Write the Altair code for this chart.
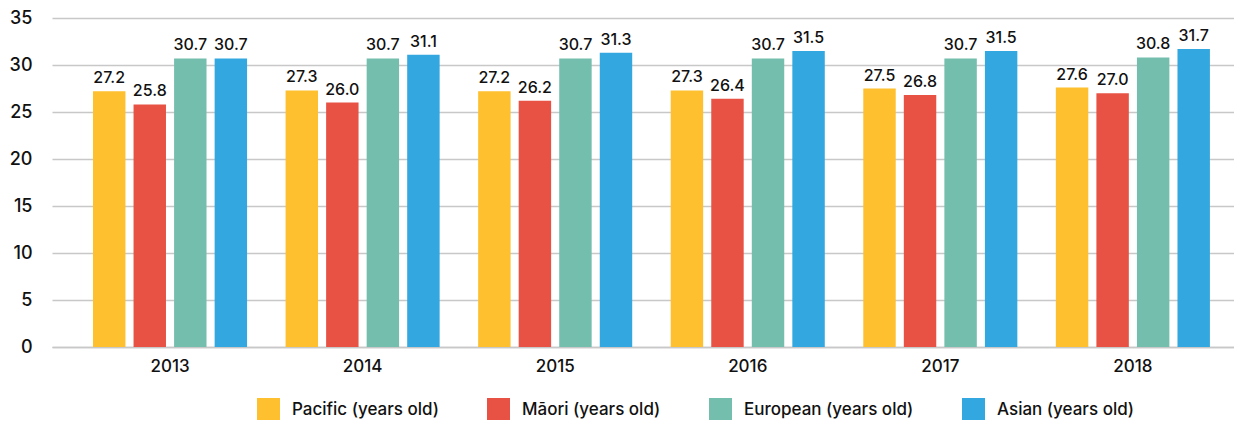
import altair as alt
import pandas as pd

years = ["2013", "2014", "2015", "2016", "2017", "2018"]
series = ["Pacific (years old)", "Māori (years old)", "European (years old)", "Asian (years old)"]
pacific = [27.2, 27.3, 27.2, 27.3, 27.5, 27.6]
maori = [25.8, 26.0, 26.2, 26.4, 26.8, 27.0]
european = [30.7, 30.7, 30.7, 30.7, 30.7, 30.8]
asian = [30.7, 31.1, 31.3, 31.5, 31.5, 31.7]
colors = ["#FEC02F", "#E85244", "#74BEAE", "#33A7DF"]

rows = []
for s, vals in zip(series, [pacific, maori, european, asian]):
    for y, v in zip(years, vals):
        rows.append({"year": y, "group": s, "value": v})
df = pd.DataFrame(rows)

FONT = "Inter"

x = alt.X("year:N", title=None,
          scale=alt.Scale(paddingInner=0.2, paddingOuter=0.169, align=0.63),
          axis=alt.Axis(labelAngle=0, labelFontSize=17, labelPadding=11, ticks=False,
                        domain=True, domainColor="#c8c8c8", domainWidth=1.5,
                        labelColor="#111", labelFont=FONT, labelFontWeight=500))
xo = alt.XOffset("group:N", sort=series, scale=alt.Scale(paddingInner=0.2, paddingOuter=0))
y = alt.Y("value:Q", title=None,
          scale=alt.Scale(domain=[0, 35], nice=False),
          axis=alt.Axis(values=[0, 5, 10, 15, 20, 25, 30, 35], ticks=False, domain=False,
                        labelFontSize=18, labelPadding=20, gridColor="#c8c8c8", gridWidth=1.5,
                        labelColor="#111", labelFont=FONT, labelFontWeight=500))
color = alt.Color("group:N", sort=series, title=None,
                  scale=alt.Scale(domain=series, range=colors),
                  legend=alt.Legend(orient="none", legendX=205, legendY=380, direction="horizontal",
                                    symbolType="square", symbolSize=529, symbolStrokeWidth=0,
                                    symbolOpacity=1, labelFontSize=17, labelFont=FONT,
                                    labelFontWeight=500,
                                    labelColor="#111", labelOffset=12, columnPadding=48,
                                    padding=0, labelLimit=400))

bars = alt.Chart(df).mark_bar().encode(x=x, xOffset=xo, y=y, color=color)
text = alt.Chart(df).mark_text(baseline="bottom", dy=-5, fontSize=16, font=FONT,
                               fontWeight=500, color="#111").encode(
    x=x, xOffset=xo, y=y, text=alt.Text("value:Q", format=".1f"))

chart = (bars + text).properties(
    width=1182, height=329,
    autosize=alt.AutoSizeParams(type="none"),
    padding={"left": 44, "top": 10, "right": 0, "bottom": 73},
).configure_view(stroke=None)

chart.save("out.html", embed_options={"renderer": "svg", "actions": False})
